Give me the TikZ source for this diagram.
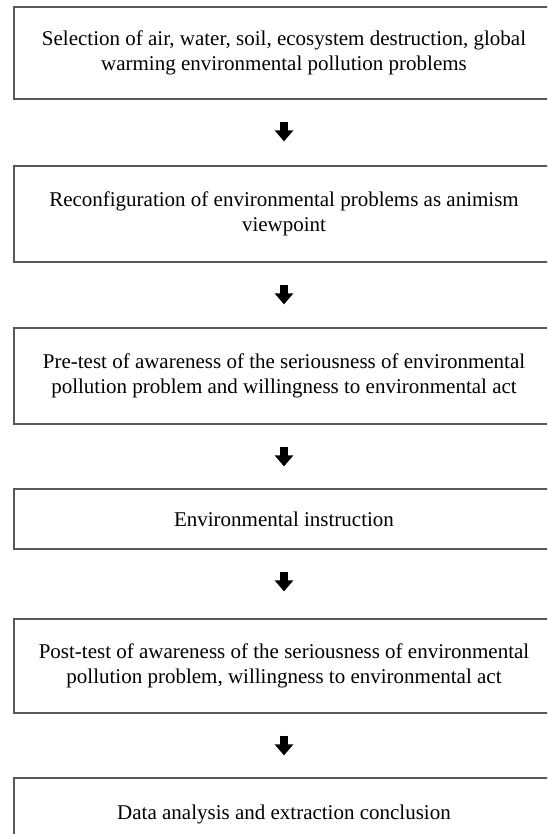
\documentclass[tikz,border=0pt]{standalone}
\usepackage{fontspec}
\setmainfont{Liberation Serif}
\usetikzlibrary{arrows.meta}
\tikzset{
  flowbox/.style={draw=black!65, line width=1.2pt, minimum width=540pt, align=center,
    font=\fontsize{21}{25}\selectfont, inner sep=0pt},
  flowarrow/.style={line width=7.5pt, -{Triangle[width=18pt,length=11pt]}}
}
\begin{document}
\begin{tikzpicture}[x=1pt,y=-1pt]
\useasboundingbox (0,0) rectangle (547,834);
\clip (0,0) rectangle (547,834);
\node[flowbox, minimum height=92pt] (b1) at (284,53) {Selection of air, water, soil, ecosystem destruction, global\\warming environmental pollution problems};
\node[flowbox, minimum height=96pt] (b2) at (284,214) {Reconfiguration of environmental problems as animism\\viewpoint};
\node[flowbox, minimum height=96pt] (b3) at (284,376) {Pre-test of awareness of the seriousness of environmental\\pollution problem and willingness to environmental act};
\node[flowbox, minimum height=60pt] (b4) at (284,519) {Environmental instruction};
\node[flowbox, minimum height=94pt] (b5) at (284,666) {Post-test of awareness of the seriousness of environmental\\pollution problem, willingness to environmental act};
\node[flowbox, minimum height=72pt] (b6) at (284,814) {Data analysis and extraction conclusion};
\draw[flowarrow, shorten <=22pt, shorten >=24pt] (b1.south) -- (b2.north);
\draw[flowarrow, shorten <=22pt, shorten >=23pt] (b2.south) -- (b3.north);
\draw[flowarrow, shorten <=22pt, shorten >=22pt] (b3.south) -- (b4.north);
\draw[flowarrow, shorten <=22pt, shorten >=27pt] (b4.south) -- (b5.north);
\draw[flowarrow, shorten <=22pt, shorten >=22pt] (b5.south) -- (b6.north);
\end{tikzpicture}
\end{document}
